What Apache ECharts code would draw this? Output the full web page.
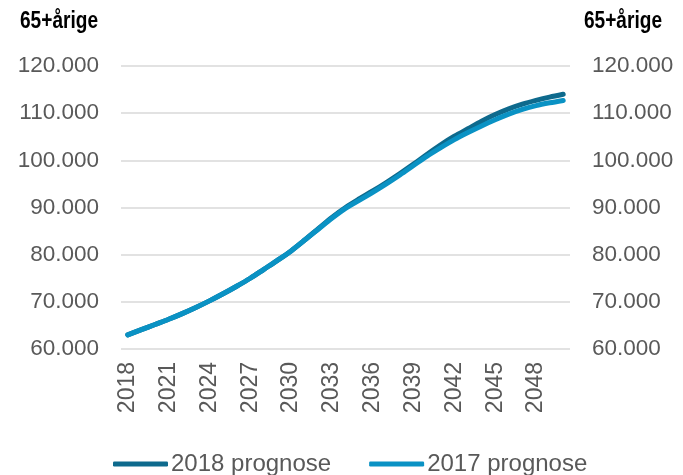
<!DOCTYPE html>
<html><head><meta charset="utf-8">
<script src="https://cdn.jsdelivr.net/npm/echarts@6/dist/echarts.min.js"></script>
<style>html,body{margin:0;padding:0;background:#fff}#c{width:683px;height:475px}</style>
</head><body><div id="c"></div>
<script>
const years = [];
for (let y = 2018; y <= 2050; y++) years.push(String(y));
const prognose2018 = [63000,64100,65200,66300,67500,68800,70200,71700,73300,75000,76900,78800,80800,83100,85500,87900,90000,91800,93500,95300,97200,99200,101300,103300,105100,106700,108300,109700,110900,111900,112700,113400,114000];
const prognose2017 = [63000,64100,65200,66300,67500,68800,70200,71700,73300,75000,76900,78800,80800,83100,85400,87700,89800,91500,93200,95000,96900,98900,100900,102700,104400,105900,107300,108600,109800,110800,111600,112200,112700];
const yTicks = {min: 60000, max: 120000, interval: 10000};
const yName = '65+årige';

const fmt = v => String(v).replace(/\B(?=(\d{3})+(?!\d))/g, '.');
const ff = 'Liberation Sans, Arial, sans-serif';
const titleFont = 'bold 23px "Liberation Sans", Arial, sans-serif';
const chart = echarts.init(document.getElementById('c'), null, {renderer: 'canvas'});
const yAxisBase = (pos) => ({
  type: 'value', position: pos, min: yTicks.min, max: yTicks.max, interval: yTicks.interval,
  axisLine: {show: false}, axisTick: {show: false},
  splitLine: {show: pos === 'left', lineStyle: {color: '#d9d9d9', width: 1.5}},
  axisLabel: {formatter: fmt, margin: 22, fontFamily: ff, fontSize: 22.5, color: '#595959'}
});
chart.setOption({
  animation: false,
  grid: {left: 121, right: 113, top: 66, bottom: 126},
  graphic: [
    {type: 'text', x: 20, y: 10, scaleX: 0.83, originX: 0, originY: 0,
     style: {text: yName, font: titleFont, fill: '#000', textAlign: 'left', textVerticalAlign: 'top'}},
    {type: 'text', x: 662, y: 10, scaleX: 0.83, originX: 0, originY: 0,
     style: {text: yName, font: titleFont, fill: '#000', textAlign: 'right', textVerticalAlign: 'top'}}
  ],
  legend: {
    data: ['2018 prognose', '2017 prognose'],
    bottom: -6, left: 108, icon: 'roundRect', itemWidth: 55, itemHeight: 5, itemGap: 38,
    textStyle: {fontFamily: ff, fontSize: 24, color: '#595959', padding: [0, 0, 0, -2]}
  },
  xAxis: {
    type: 'category', data: years, boundaryGap: true,
    axisLine: {show: false}, axisTick: {show: false},
    axisLabel: {rotate: 90, interval: 2, margin: 13, fontFamily: ff, fontSize: 23, color: '#595959'}
  },
  yAxis: [yAxisBase('left'), yAxisBase('right')],
  series: [
    {name: '2018 prognose', type: 'line', data: prognose2018, symbol: 'none', smooth: 0.3,
     lineStyle: {color: '#0e6a8d', width: 5, cap: 'round'}, itemStyle: {color: '#0e6a8d'}},
    {name: '2017 prognose', type: 'line', data: prognose2017, symbol: 'none', smooth: 0.3,
     lineStyle: {color: '#0a92c4', width: 5, cap: 'round'}, itemStyle: {color: '#0a92c4'}}
  ]
});
</script></body></html>
